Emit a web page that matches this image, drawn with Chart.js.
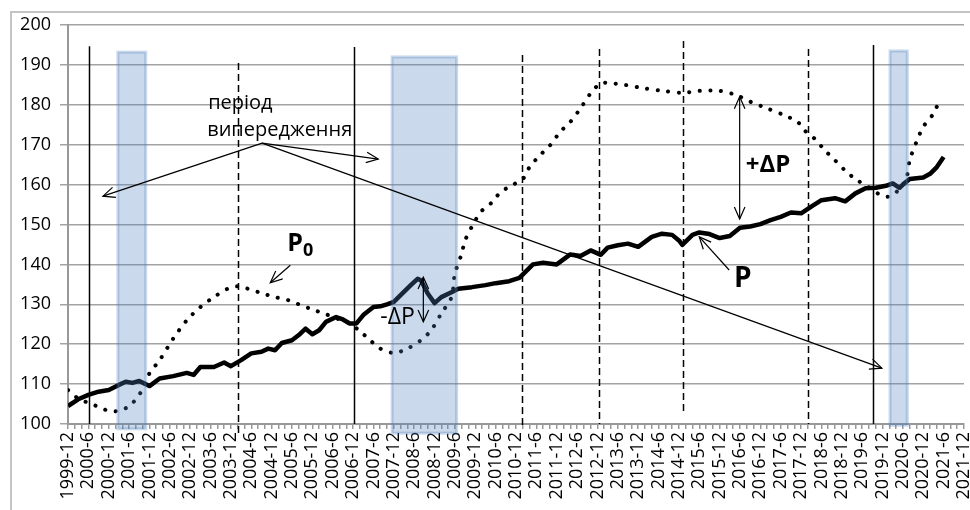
<!DOCTYPE html>
<html>
<head>
<meta charset="utf-8">
<script src="https://cdn.jsdelivr.net/npm/chart.js@4/dist/chart.umd.min.js"></script>
<style>
  html, body { margin: 0; padding: 0; background: #fff; }
  #wrap { width: 970px; height: 510px; position: relative; }
</style>
</head>
<body>
<div id="wrap"><canvas id="c"></canvas></div>
<script>
// x = months since 1999-12
const xTickLabels = [
  '1999-12', '2000-6', '2000-12', '2001-6', '2001-12', '2002-6', '2002-12', '2003-6', '2003-12',
  '2004-6', '2004-12', '2005-6', '2005-12', '2006-6', '2006-12', '2007-6', '2007-12', '2008-6',
  '2008-12', '2009-6', '2009-12', '2010-6', '2010-12', '2011-6', '2011-12', '2012-6', '2012-12',
  '2013-6', '2013-12', '2014-6', '2014-12', '2015-6', '2015-12', '2016-6', '2016-12', '2017-6',
  '2017-12', '2018-6', '2018-12', '2019-6', '2019-12', '2020-6', '2020-12', '2021-6', '2021-12',
];
const yTicks = [100, 110, 120, 130, 140, 150, 160, 170, 180, 190, 200];

// P (суцільна)
const pMonths = [0, 3, 6, 9, 12, 15, 17, 19, 21, 24, 27, 31, 35, 37, 39, 43, 46, 48, 51, 54, 57, 59, 61, 63, 66, 68, 70, 72, 74, 76,
  79, 81, 83, 85, 87, 90, 92, 94, 96, 98, 101, 103, 104, 106, 108, 110, 113, 115, 119, 123, 126, 130, 133, 137, 140, 144, 148, 151, 154, 157,
  159, 162, 165, 168, 172, 175, 178, 180, 181, 184, 186, 189, 192, 195, 198, 201, 204, 207, 210, 213, 216, 219, 222, 226, 229, 232, 235, 238, 241, 243,
  245, 246, 248, 252, 254, 256, 258];
const pValues = [104.5, 106.2, 107.3, 108.1, 108.5, 109.8, 110.6, 110.3, 110.8, 109.5, 111.4, 112, 112.8, 112.3, 114.3, 114.3, 115.4, 114.5, 116, 117.7, 118.1, 118.9, 118.5, 120.3, 121, 122.3, 123.9, 122.5, 123.5, 125.6,
  126.8, 126.2, 125.2, 125.2, 127.3, 129.3, 129.5, 130, 130.6, 132.3, 134.8, 136.4, 136, 132.7, 130.3, 131.8, 133, 133.9, 134.3, 134.8, 135.3, 135.8, 136.6, 140, 140.4, 140, 142.5, 142.1, 143.5, 142.4,
  144.2, 144.8, 145.2, 144.4, 146.9, 147.7, 147.4, 146, 144.9, 147.4, 148, 147.6, 146.6, 147.1, 149.2, 149.5, 150.1, 151.1, 151.9, 153, 152.8, 154.5, 156.1, 156.6, 155.8, 157.8, 159.1, 159.2, 159.7, 160.3,
  159.2, 160, 161.4, 161.8, 162.7, 164.4, 166.9];

// P0 (пунктир)
const p0Months = [0, 3, 6, 9, 12, 15, 18, 21, 24, 27, 31, 35, 39, 43, 47, 50, 53, 57, 61, 65, 68, 72, 76, 80, 83, 86, 89, 92, 96, 100,
  104, 107, 110, 113, 114, 116, 117, 120, 122, 125, 127, 130, 134, 136, 139, 142, 145, 148, 151, 154, 157, 160, 164, 170, 175, 181, 186, 192, 197, 201,
  206, 211, 215, 217, 220, 223, 226, 229, 232, 236, 239, 242, 245, 247, 248, 250, 252, 255, 257];
const p0Values = [108.5, 106.4, 105.3, 104.3, 103.3, 103.3, 104.5, 107.3, 112.7, 116, 121.4, 126, 129.3, 131.8, 133.9, 134.5, 133.9, 132.8, 131.8, 131, 130, 128.7, 127.5, 126.2, 125.2, 123.3, 121, 118.9, 117.8, 118.9,
  121, 123.5, 127.7, 131.8, 137.7, 142.7, 146, 151, 153.5, 155.6, 157.7, 159.5, 161.4, 164.4, 167.3, 169.8, 173.2, 175.7, 179.1, 182.9, 185.4, 185.4, 185, 184.1, 183.5, 183, 183.5, 183.5, 182.4, 180.8,
  179.1, 177.4, 175.7, 173.6, 171.5, 168.6, 166.1, 163.5, 161.4, 159.3, 157.6, 157, 158.9, 161.4, 166.1, 170.7, 174.5, 177.8, 181.6];

// кризові періоди (місяці) та межі по осі Y
const bandStart = [14.7, 95.5, 242.2];
const bandEnd = [22.9, 114.5, 247.3];
const bandTop = [193.2, 192.0, 193.5];
const bandBottom = [98.8, 97.7, 99.7];

// вертикальні лінії
const vlineMonth = [6.2, 50.1, 84.2, 133.7, 156.6, 181.3, 217.9, 237.2];
const vlineTop = [194.7, 190.5, 194.5, 192.5, 194, 196, 194, 195];
const vlineBottom = [100, 97, 100, 99.5, 100, 102.3, 100, 100];
const vlineDashed = [false, true, false, true, true, true, true, false];

const FONT = "'Open Sans', 'DejaVu Sans', sans-serif";

function arrowHead(ctx, x1, y1, x2, y2) {
  const a = Math.atan2(y2 - y1, x2 - x1);
  const len = 13, spread = 0.42;
  ctx.beginPath();
  ctx.moveTo(x2 - len * Math.cos(a - spread), y2 - len * Math.sin(a - spread));
  ctx.lineTo(x2, y2);
  ctx.lineTo(x2 - len * Math.cos(a + spread), y2 - len * Math.sin(a + spread));
  ctx.stroke();
}
function arrow(ctx, x1, y1, x2, y2, both) {
  ctx.beginPath();
  ctx.moveTo(x1, y1);
  ctx.lineTo(x2, y2);
  ctx.stroke();
  arrowHead(ctx, x1, y1, x2, y2);
  if (both) arrowHead(ctx, x2, y2, x1, y1);
}

const overlay = {
  id: 'overlay',
  beforeDraw(chart) {
    const ctx = chart.ctx;
    ctx.save();
    ctx.fillStyle = '#fff';
    ctx.fillRect(0, 0, chart.width, chart.height);
    ctx.strokeStyle = '#c4c4c4';
    ctx.lineWidth = 2;
    ctx.strokeRect(11, 12, chart.width + 20, chart.height + 20);
    ctx.restore();
  },
  beforeDatasetsDraw(chart) {
    const { ctx, scales: { x, y } } = chart;
    ctx.save();
    ctx.strokeStyle = '#000';
    ctx.lineWidth = 1.5;
    vlineMonth.forEach((m, i) => {
      ctx.setLineDash(vlineDashed[i] ? [7, 4] : []);
      const px = Math.round(x.getPixelForValue(m)) + 0.5;
      ctx.beginPath();
      ctx.moveTo(px, y.getPixelForValue(vlineTop[i]));
      ctx.lineTo(px, y.getPixelForValue(vlineBottom[i]));
      ctx.stroke();
    });
    ctx.restore();
  },
  afterDatasetsDraw(chart) {
    const { ctx, scales: { x, y } } = chart;
    const X = (m) => x.getPixelForValue(m);
    const Y = (v) => y.getPixelForValue(v);
    ctx.save();
    // смуги
    bandStart.forEach((s, i) => {
      const x1 = X(s), x2 = X(bandEnd[i]);
      const y1 = Y(bandTop[i]), y2 = Y(bandBottom[i]);
      ctx.fillStyle = 'rgba(79,129,189,0.3)';
      ctx.fillRect(x1, y1, x2 - x1, y2 - y1);
      ctx.strokeStyle = 'rgba(79,129,189,0.3)';
      ctx.lineWidth = 3;
      ctx.strokeRect(x1, y1, x2 - x1, y2 - y1);
    });

    // стрілки
    ctx.strokeStyle = '#000';
    ctx.lineWidth = 1.2;
    const ax = X(57.2), ay = Y(170.4);
    [[10.3, 157.1], [91.4, 166.4], [239.8, 114.0]].forEach(([m, v]) => arrow(ctx, ax, ay, X(m), Y(v)));
    arrow(ctx, X(197.9), Y(151.4), X(197.9), Y(182.0), true);
    arrow(ctx, X(104.7), Y(125.6), X(104.7), Y(136.8), true);
    arrow(ctx, X(65.5), Y(139.8), X(59.6), Y(135.4));
    arrow(ctx, X(194.8), Y(138.6), X(186), Y(146.9));

    // підписи
    ctx.fillStyle = '#000';
    ctx.textBaseline = 'middle';
    ctx.textAlign = 'left';
    ctx.font = '20px ' + FONT;
    ctx.fillText('період', X(41.3), Y(180.5));
    ctx.fillText('випередження', X(41), Y(173.7));
    ctx.font = '23px ' + FONT;
    ctx.fillText('-ΔP', X(92), Y(126.6));
    ctx.font = 'bold 24px ' + FONT;
    ctx.fillText('+ΔP', X(199.7), Y(164.9));
    ctx.font = 'bold 28px ' + FONT;
    ctx.fillText('P', X(196.2), Y(136.3));
    ctx.font = 'bold 25px ' + FONT;
    ctx.fillText('P', X(64.6), Y(145.1));
    const pw = ctx.measureText('P').width;
    ctx.font = 'bold 18px ' + FONT;
    ctx.fillText('0', X(64.6) + pw, Y(145.1) + 7);
    ctx.restore();
  },
};

new Chart(document.getElementById('c'), {
  type: 'line',
  data: {
    datasets: [
      {
        label: 'P',
        data: pMonths.map((m, i) => ({ x: m, y: pValues[i] })),
        borderColor: '#000',
        borderWidth: 4.5,
        borderJoinStyle: 'round',
        pointRadius: 0,
        tension: 0,
      },
      {
        label: 'P0',
        data: p0Months.map((m, i) => ({ x: m, y: p0Values[i] })),
        borderColor: '#000',
        borderWidth: 4,
        borderDash: [0.1, 10.5],
        borderCapStyle: 'round',
        pointRadius: 0,
        tension: 0.3,
      },
    ],
  },
  options: {
    responsive: true, maintainAspectRatio: false, animation: false,
    layout: { padding: { left: 0, top: 25, right: 6, bottom: 0 } },
    plugins: { legend: { display: false }, tooltip: { enabled: false } },
    scales: {
      x: {
        type: 'linear', min: 0, max: 264,
        afterFit: (s) => { s.height = 86; s.paddingLeft = 0; s.paddingRight = 0; },
        grid: { drawOnChartArea: false, tickLength: 5, color: '#999', lineWidth: 1.5 },
        border: { color: '#999', width: 2 },
        ticks: {
          stepSize: 2, autoSkip: false, maxRotation: 90, minRotation: 90, padding: 3,
          color: '#000', font: { family: FONT, size: 18 },
          callback: (v) => (v % 6 === 0 ? xTickLabels[v / 6] : ''),
        },
      },
      y: {
        min: yTicks[0], max: yTicks[yTicks.length - 1],
        afterFit: (s) => { s.width = 68; s.paddingTop = 0; s.paddingBottom = 0; },
        afterBuildTicks: (s) => { s.ticks = yTicks.map((v) => ({ value: v })); },
        grid: { color: '#a3a3a3', lineWidth: 1.5, tickLength: 8 },
        border: { color: '#999', width: 2 },
        ticks: { padding: 9, color: '#000', font: { family: FONT, size: 18 } },
      },
    },
  },
  plugins: [overlay],
});
</script>
</body>
</html>
